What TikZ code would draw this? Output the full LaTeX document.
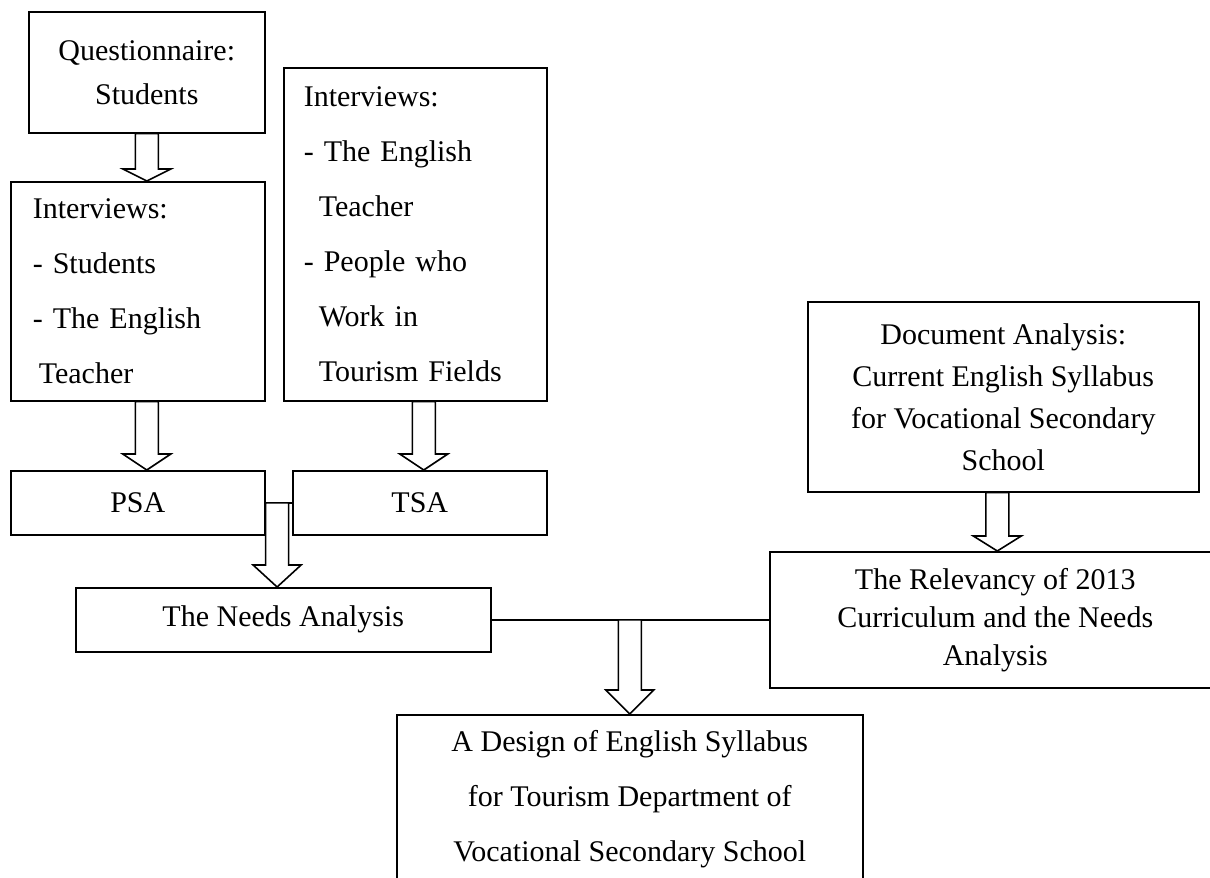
\documentclass[tikz,border=0pt]{standalone}
\usepackage{fontspec}
\setmainfont{Liberation Serif}
\usetikzlibrary{calc}
\tikzset{
  box/.style={draw, line width=1.6pt, inner sep=0pt, anchor=north west, align=center},
  lbox/.style={box, align=left},
  blockarrow/.style={draw, fill=white, line width=1.6pt, line join=miter},
  link/.style={draw, line width=1.6pt}
}
\newcommand\barrow[3]{\path[blockarrow] let \p1=(#1), \p2=(#2) in
  (\x1-11.5pt,\y1) -- (\x1-11.5pt,\y2+#3) -- (\x1-24pt,\y2+#3) -- (\x1,\y2)
  -- (\x1+24pt,\y2+#3) -- (\x1+11.5pt,\y2+#3) -- (\x1+11.5pt,\y1) -- cycle;}
\begin{document}
\begin{tikzpicture}[x=1pt,y=-1pt]
\useasboundingbox (0,0) rectangle (1210,878);
% boxes
\node[box, minimum width=236pt, minimum height=121pt, font=\fontsize{30}{44}\selectfont] (q) at (28,11)
  {Questionnaire:\\Students};
\node[lbox, minimum width=254pt, minimum height=219pt, text width=210pt, font=\fontsize{30}{55}\selectfont] (iL) at (10,181)
  {Interviews:\\- Students\\- The English\\\hspace*{6pt}Teacher};
\node[lbox, minimum width=263pt, minimum height=333pt, text width=223pt, font=\fontsize{30}{55}\selectfont] (iR) at (283,67)
  {Interviews:\\- The English\\\hspace*{15pt}Teacher\\- People who\\\hspace*{15pt}Work in\\\hspace*{15pt}Tourism Fields};
\node[box, minimum width=254pt, minimum height=64pt, font=\fontsize{30}{36}\selectfont] (psa) at (10,470) {PSA};
\node[box, minimum width=254pt, minimum height=64pt, font=\fontsize{30}{36}\selectfont] (tsa) at (292,470) {TSA};
\node[box, minimum width=415pt, minimum height=64pt, font=\fontsize{30}{36}\selectfont] (na) at (75,587) {The Needs Analysis};
\node[box, minimum width=391pt, minimum height=190pt, font=\fontsize{30}{42}\selectfont] (doc) at (807,301)
  {Document Analysis:\\Current English Syllabus\\for Vocational Secondary\\School};
\node[box, minimum width=451pt, minimum height=136pt, font=\fontsize{30}{38}\selectfont] (rel) at (769,551)
  {The Relevancy of 2013\\Curriculum and the Needs\\Analysis};
\node[box, minimum width=466pt, minimum height=169pt, font=\fontsize{30}{55}\selectfont] (ds) at (396,714)
  {A Design of English Syllabus\\for Tourism Department of\\Vocational Secondary School};
% connector lines
\draw[link] (psa.east) -- (tsa.west);
\draw[link] (na.east) -- (rel.west);
% arrow anchor points
\coordinate (a1) at (q.south);
\coordinate (a2) at (q.south |- iL.south);
\coordinate (a3) at ($(iR.south)+(8.5,0)$);
\coordinate (j) at ($(psa.east)+(11.5,0)$);
\coordinate (a5) at ($(doc.south)+(-6,0)$);
\coordinate (k) at (ds.north |- na.east);
% block arrows
\barrow{a1}{a1 |- iL.north}{12pt}
\barrow{a2}{a2 |- psa.north}{16pt}
\barrow{a3}{a3 |- tsa.north}{16pt}
\barrow{j}{j |- na.north}{22pt}
\barrow{a5}{a5 |- rel.north}{15pt}
\barrow{k}{ds.north}{24pt}
\end{tikzpicture}
\end{document}
